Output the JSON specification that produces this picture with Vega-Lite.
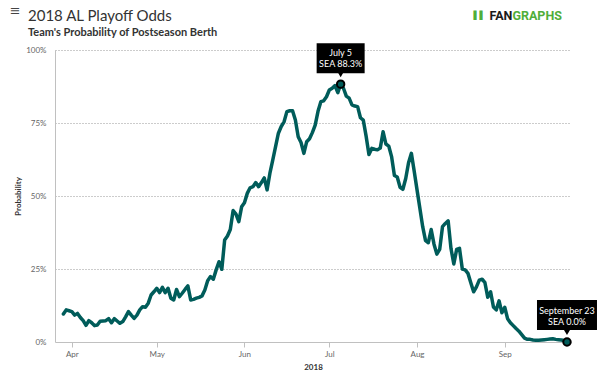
{
  "$schema": "https://vega.github.io/schema/vega-lite/v6.json",
  "width": 516,
  "height": 292,
  "autosize": {"type": "none"},
  "padding": {"left": 55, "top": 50, "right": 35, "bottom": 35},
  "background": "white",
  "title": {
    "text": "2018 AL Playoff Odds",
    "subtitle": "Team's Probability of Postseason Berth",
    "anchor": "start",
    "frame": "group",
    "dx": -27,
    "offset": -33,
    "font": "Lato",
    "fontSize": 15,
    "fontWeight": "normal",
    "color": "#333333",
    "subtitleFont": "Lato",
    "subtitleFontSize": 11,
    "subtitleFontWeight": "bold",
    "subtitleColor": "#333333",
    "subtitlePadding": 3
  },
  "config": {"view": {"stroke": null}, "font": "Lato"},
  "datasets": {
    "odds": [
      {"d": "2018-03-29", "p": 9.6}, {"d": "2018-03-30", "p": 11.0}, {"d": "2018-03-31", "p": 10.7},
      {"d": "2018-04-01", "p": 10.4}, {"d": "2018-04-02", "p": 9.2}, {"d": "2018-04-03", "p": 9.8}, {"d": "2018-04-04", "p": 8.4}, {"d": "2018-04-05", "p": 7.3},
      {"d": "2018-04-06", "p": 5.7}, {"d": "2018-04-07", "p": 7.3}, {"d": "2018-04-08", "p": 6.6}, {"d": "2018-04-09", "p": 5.6}, {"d": "2018-04-10", "p": 5.8},
      {"d": "2018-04-11", "p": 7.1}, {"d": "2018-04-12", "p": 7.2}, {"d": "2018-04-13", "p": 7.3}, {"d": "2018-04-14", "p": 8.0}, {"d": "2018-04-15", "p": 6.6},
      {"d": "2018-04-16", "p": 8.0}, {"d": "2018-04-17", "p": 7.2}, {"d": "2018-04-18", "p": 6.4}, {"d": "2018-04-19", "p": 7.0}, {"d": "2018-04-20", "p": 8.6},
      {"d": "2018-04-21", "p": 10.4}, {"d": "2018-04-22", "p": 9.2}, {"d": "2018-04-23", "p": 8.1}, {"d": "2018-04-24", "p": 9.2}, {"d": "2018-04-25", "p": 11.0},
      {"d": "2018-04-26", "p": 12.1}, {"d": "2018-04-27", "p": 11.9}, {"d": "2018-04-28", "p": 13.3}, {"d": "2018-04-29", "p": 16.1}, {"d": "2018-04-30", "p": 17.2},
      {"d": "2018-05-01", "p": 18.4}, {"d": "2018-05-02", "p": 16.9}, {"d": "2018-05-03", "p": 18.7}, {"d": "2018-05-04", "p": 16.9}, {"d": "2018-05-05", "p": 18.4},
      {"d": "2018-05-06", "p": 15.0}, {"d": "2018-05-07", "p": 14.4}, {"d": "2018-05-08", "p": 18.0}, {"d": "2018-05-09", "p": 15.5}, {"d": "2018-05-10", "p": 16.7},
      {"d": "2018-05-11", "p": 18.0}, {"d": "2018-05-12", "p": 19.2}, {"d": "2018-05-13", "p": 14.4}, {"d": "2018-05-14", "p": 14.6}, {"d": "2018-05-15", "p": 15.0},
      {"d": "2018-05-16", "p": 15.3}, {"d": "2018-05-17", "p": 15.8}, {"d": "2018-05-18", "p": 17.8}, {"d": "2018-05-19", "p": 21.0}, {"d": "2018-05-20", "p": 22.4},
      {"d": "2018-05-21", "p": 21.5}, {"d": "2018-05-22", "p": 24.7}, {"d": "2018-05-23", "p": 27.5}, {"d": "2018-05-24", "p": 24.9}, {"d": "2018-05-25", "p": 34.9},
      {"d": "2018-05-26", "p": 36.3}, {"d": "2018-05-27", "p": 38.5}, {"d": "2018-05-28", "p": 45.0}, {"d": "2018-05-29", "p": 43.8}, {"d": "2018-05-30", "p": 41.2},
      {"d": "2018-05-31", "p": 46.3},
      {"d": "2018-06-01", "p": 47.7}, {"d": "2018-06-02", "p": 50.9}, {"d": "2018-06-03", "p": 52.8}, {"d": "2018-06-04", "p": 53.2}, {"d": "2018-06-05", "p": 54.6},
      {"d": "2018-06-06", "p": 53.2}, {"d": "2018-06-07", "p": 54.6}, {"d": "2018-06-08", "p": 56.2}, {"d": "2018-06-09", "p": 52.1}, {"d": "2018-06-10", "p": 57.8},
      {"d": "2018-06-11", "p": 62.3}, {"d": "2018-06-12", "p": 66.9}, {"d": "2018-06-13", "p": 71.5}, {"d": "2018-06-14", "p": 73.8}, {"d": "2018-06-15", "p": 75.4},
      {"d": "2018-06-16", "p": 78.9}, {"d": "2018-06-17", "p": 79.2}, {"d": "2018-06-18", "p": 79.2}, {"d": "2018-06-19", "p": 76.0}, {"d": "2018-06-20", "p": 70.3},
      {"d": "2018-06-21", "p": 68.3}, {"d": "2018-06-22", "p": 64.6}, {"d": "2018-06-23", "p": 68.6}, {"d": "2018-06-24", "p": 69.6}, {"d": "2018-06-25", "p": 71.7},
      {"d": "2018-06-26", "p": 74.3}, {"d": "2018-06-27", "p": 79.0}, {"d": "2018-06-28", "p": 82.3}, {"d": "2018-06-29", "p": 82.6}, {"d": "2018-06-30", "p": 84.0},
      {"d": "2018-07-01", "p": 86.3}, {"d": "2018-07-02", "p": 86.9}, {"d": "2018-07-03", "p": 87.8}, {"d": "2018-07-04", "p": 85.4}, {"d": "2018-07-05", "p": 88.3},
      {"d": "2018-07-06", "p": 86.9}, {"d": "2018-07-07", "p": 84.2}, {"d": "2018-07-08", "p": 83.5}, {"d": "2018-07-09", "p": 81.2}, {"d": "2018-07-10", "p": 80.8},
      {"d": "2018-07-11", "p": 80.6}, {"d": "2018-07-12", "p": 76.8}, {"d": "2018-07-13", "p": 76.0}, {"d": "2018-07-14", "p": 70.5}, {"d": "2018-07-15", "p": 64.2},
      {"d": "2018-07-16", "p": 66.3}, {"d": "2018-07-17", "p": 66.0}, {"d": "2018-07-18", "p": 65.8}, {"d": "2018-07-19", "p": 66.4}, {"d": "2018-07-20", "p": 72.0},
      {"d": "2018-07-21", "p": 67.8}, {"d": "2018-07-22", "p": 67.1}, {"d": "2018-07-23", "p": 63.5}, {"d": "2018-07-24", "p": 57.0}, {"d": "2018-07-25", "p": 56.5},
      {"d": "2018-07-26", "p": 53.0}, {"d": "2018-07-27", "p": 52.3}, {"d": "2018-07-28", "p": 56.0}, {"d": "2018-07-29", "p": 61.4}, {"d": "2018-07-30", "p": 64.6},
      {"d": "2018-07-31", "p": 58.5},
      {"d": "2018-08-01", "p": 52.1}, {"d": "2018-08-02", "p": 45.8}, {"d": "2018-08-03", "p": 39.5}, {"d": "2018-08-04", "p": 34.7}, {"d": "2018-08-05", "p": 34.0},
      {"d": "2018-08-06", "p": 38.5}, {"d": "2018-08-07", "p": 33.5}, {"d": "2018-08-08", "p": 30.1}, {"d": "2018-08-09", "p": 31.7}, {"d": "2018-08-10", "p": 39.5},
      {"d": "2018-08-11", "p": 40.6}, {"d": "2018-08-12", "p": 41.5}, {"d": "2018-08-13", "p": 32.0}, {"d": "2018-08-14", "p": 26.7}, {"d": "2018-08-15", "p": 31.7},
      {"d": "2018-08-16", "p": 32.1}, {"d": "2018-08-17", "p": 25.0}, {"d": "2018-08-18", "p": 24.7}, {"d": "2018-08-19", "p": 23.5}, {"d": "2018-08-20", "p": 20.3},
      {"d": "2018-08-21", "p": 17.2}, {"d": "2018-08-22", "p": 18.9}, {"d": "2018-08-23", "p": 21.2}, {"d": "2018-08-24", "p": 21.5}, {"d": "2018-08-25", "p": 20.3},
      {"d": "2018-08-26", "p": 15.3}, {"d": "2018-08-27", "p": 17.2}, {"d": "2018-08-28", "p": 12.0}, {"d": "2018-08-29", "p": 11.0}, {"d": "2018-08-30", "p": 14.1},
      {"d": "2018-08-31", "p": 10.0},
      {"d": "2018-09-01", "p": 11.9}, {"d": "2018-09-02", "p": 8.0}, {"d": "2018-09-03", "p": 6.6}, {"d": "2018-09-04", "p": 5.6}, {"d": "2018-09-05", "p": 4.6},
      {"d": "2018-09-06", "p": 3.7}, {"d": "2018-09-07", "p": 2.5}, {"d": "2018-09-08", "p": 1.3}, {"d": "2018-09-09", "p": 0.9}, {"d": "2018-09-10", "p": 0.9},
      {"d": "2018-09-11", "p": 0.7}, {"d": "2018-09-12", "p": 0.6}, {"d": "2018-09-13", "p": 0.6}, {"d": "2018-09-14", "p": 0.7}, {"d": "2018-09-15", "p": 0.8},
      {"d": "2018-09-16", "p": 0.9}, {"d": "2018-09-17", "p": 1.0}, {"d": "2018-09-18", "p": 1.1}, {"d": "2018-09-19", "p": 0.9}, {"d": "2018-09-20", "p": 0.8},
      {"d": "2018-09-21", "p": 0.7}, {"d": "2018-09-22", "p": 0.5}, {"d": "2018-09-23", "p": 0.0}
    ],
    "notes": [
      {"d": "2018-07-05", "p": 88.3, "l1": "July 5", "l2": "SEA 88.3%"},
      {"d": "2018-09-23", "p": 0.0, "l1": "September 23", "l2": "SEA 0.0%"}
    ],
    "brand": [
      {"icon": "≡", "fan": "FAN", "graphs": "GRAPHS", "bars": "▌▌"}
    ]
  },
  "layer": [
    {
      "data": {"name": "odds"},
      "mark": {"type": "line", "color": "#005c5a", "strokeWidth": 3.5, "strokeJoin": "round", "strokeCap": "round"},
      "encoding": {
        "x": {
          "field": "d",
          "type": "temporal",
          "scale": {
            "type": "utc",
            "domain": [
              {"year": 2018, "month": 3, "date": 26, "hours": 1, "utc": true},
              {"year": 2018, "month": 9, "date": 24, "hours": 10, "utc": true}
            ]
          },
          "axis": {
            "title": "2018",
            "values": [
              {"year": 2018, "month": 4, "date": 1, "utc": true},
              {"year": 2018, "month": 5, "date": 1, "utc": true},
              {"year": 2018, "month": 6, "date": 1, "utc": true},
              {"year": 2018, "month": 7, "date": 1, "utc": true},
              {"year": 2018, "month": 8, "date": 1, "utc": true},
              {"year": 2018, "month": 9, "date": 1, "utc": true}
            ],
            "format": "%b",
            "grid": false,
            "domainColor": "#c0c0c0",
            "tickColor": "#c0c0c0",
            "tickSize": 5,
            "labelFont": "Lato",
            "labelFontSize": 8,
            "labelColor": "#666666",
            "labelPadding": 3,
            "titleFont": "Lato",
            "titleFontSize": 8,
            "titleFontWeight": "bold",
            "titleColor": "#333333",
            "titlePadding": 5
          }
        },
        "y": {
          "field": "p",
          "type": "quantitative",
          "scale": {"domain": [0, 100]},
          "axis": {
            "title": "Probability",
            "values": [0, 25, 50, 75, 100],
            "labelExpr": "datum.value + '%'",
            "grid": true,
            "gridDash": [1, 2],
            "gridColor": "#999999",
            "gridOpacity": {"condition": {"test": "datum.value === 0", "value": 0}, "value": 1},
            "ticks": false,
            "domainColor": "#c0c0c0",
            "labelFont": "Lato",
            "labelFontSize": 8,
            "labelColor": "#666666",
            "labelPadding": 9,
            "titleFont": "Lato",
            "titleFontSize": 8,
            "titleFontWeight": "bold",
            "titleColor": "#333333",
            "titlePadding": 3
          }
        }
      }
    },
    {
      "data": {"name": "notes"},
      "mark": {"type": "point", "filled": true, "fill": "#005c5a", "stroke": "#000000", "strokeWidth": 2, "size": 55, "opacity": 1},
      "encoding": {
        "x": {"field": "d", "type": "temporal"},
        "y": {"field": "p", "type": "quantitative"}
      }
    },
    {
      "data": {"name": "notes"},
      "transform": [{"filter": "datum.l1 === 'July 5'"}],
      "mark": {"type": "rect", "color": "#000000", "opacity": 1, "xOffset": -24, "x2Offset": 24, "yOffset": -41, "y2Offset": -11},
      "encoding": {
        "x": {"field": "d", "type": "temporal"},
        "x2": {"field": "d"},
        "y": {"field": "p", "type": "quantitative"},
        "y2": {"field": "p"}
      }
    },
    {
      "data": {"name": "notes"},
      "transform": [{"filter": "datum.l1 === 'September 23'"}],
      "mark": {"type": "rect", "color": "#000000", "opacity": 1, "xOffset": -30, "x2Offset": 30, "yOffset": -42, "y2Offset": -12},
      "encoding": {
        "x": {"field": "d", "type": "temporal"},
        "x2": {"field": "d"},
        "y": {"field": "p", "type": "quantitative"},
        "y2": {"field": "p"}
      }
    },
    {
      "data": {"name": "notes"},
      "mark": {"type": "point", "shape": "triangle-down", "filled": true, "color": "#000000", "opacity": 1, "size": 36, "yOffset": -9.5},
      "encoding": {
        "x": {"field": "d", "type": "temporal"},
        "y": {"field": "p", "type": "quantitative"}
      }
    },
    {
      "data": {"name": "notes"},
      "mark": {"type": "text", "color": "#ffffff", "font": "Lato", "fontSize": 9, "align": "center", "baseline": "middle", "yOffset": -31},
      "encoding": {
        "x": {"field": "d", "type": "temporal"},
        "y": {"field": "p", "type": "quantitative"},
        "text": {"field": "l1"}
      }
    },
    {
      "data": {"name": "notes"},
      "mark": {"type": "text", "color": "#ffffff", "font": "Lato", "fontSize": 9, "align": "center", "baseline": "middle", "yOffset": -20.5},
      "encoding": {
        "x": {"field": "d", "type": "temporal"},
        "y": {"field": "p", "type": "quantitative"},
        "text": {"field": "l2"}
      }
    },
    {
      "data": {"name": "brand"},
      "mark": {"type": "text", "font": "DejaVu Sans", "fontSize": 13, "color": "#444444", "align": "center", "baseline": "middle"},
      "encoding": {
        "x": {"datum": {"year": 2018, "month": 3, "date": 12, "utc": true}, "type": "temporal"},
        "y": {"datum": 113.2, "type": "quantitative"},
        "text": {"field": "icon"}
      }
    },
    {
      "data": {"name": "brand"},
      "mark": {"type": "text", "font": "DejaVu Sans", "fontSize": 8, "color": "#4fae3a", "align": "right", "baseline": "middle", "dx": -2},
      "encoding": {
        "x": {"datum": {"year": 2018, "month": 8, "date": 26, "utc": true}, "type": "temporal"},
        "y": {"datum": 111.7, "type": "quantitative"},
        "text": {"field": "bars"}
      }
    },
    {
      "data": {"name": "brand"},
      "mark": {"type": "text", "font": "Roboto", "fontSize": 12.5, "fontWeight": "bold", "color": "#1a1a1a", "align": "right", "baseline": "middle", "dx": 2},
      "encoding": {
        "x": {"datum": {"year": 2018, "month": 9, "date": 3, "utc": true}, "type": "temporal"},
        "y": {"datum": 111.7, "type": "quantitative"},
        "text": {"field": "fan"}
      }
    },
    {
      "data": {"name": "brand"},
      "mark": {"type": "text", "font": "Roboto", "fontSize": 12.5, "fontWeight": "bold", "color": "#4fae3a", "align": "left", "baseline": "middle", "dx": 2},
      "encoding": {
        "x": {"datum": {"year": 2018, "month": 9, "date": 3, "utc": true}, "type": "temporal"},
        "y": {"datum": 111.7, "type": "quantitative"},
        "text": {"field": "graphs"}
      }
    }
  ]
}
